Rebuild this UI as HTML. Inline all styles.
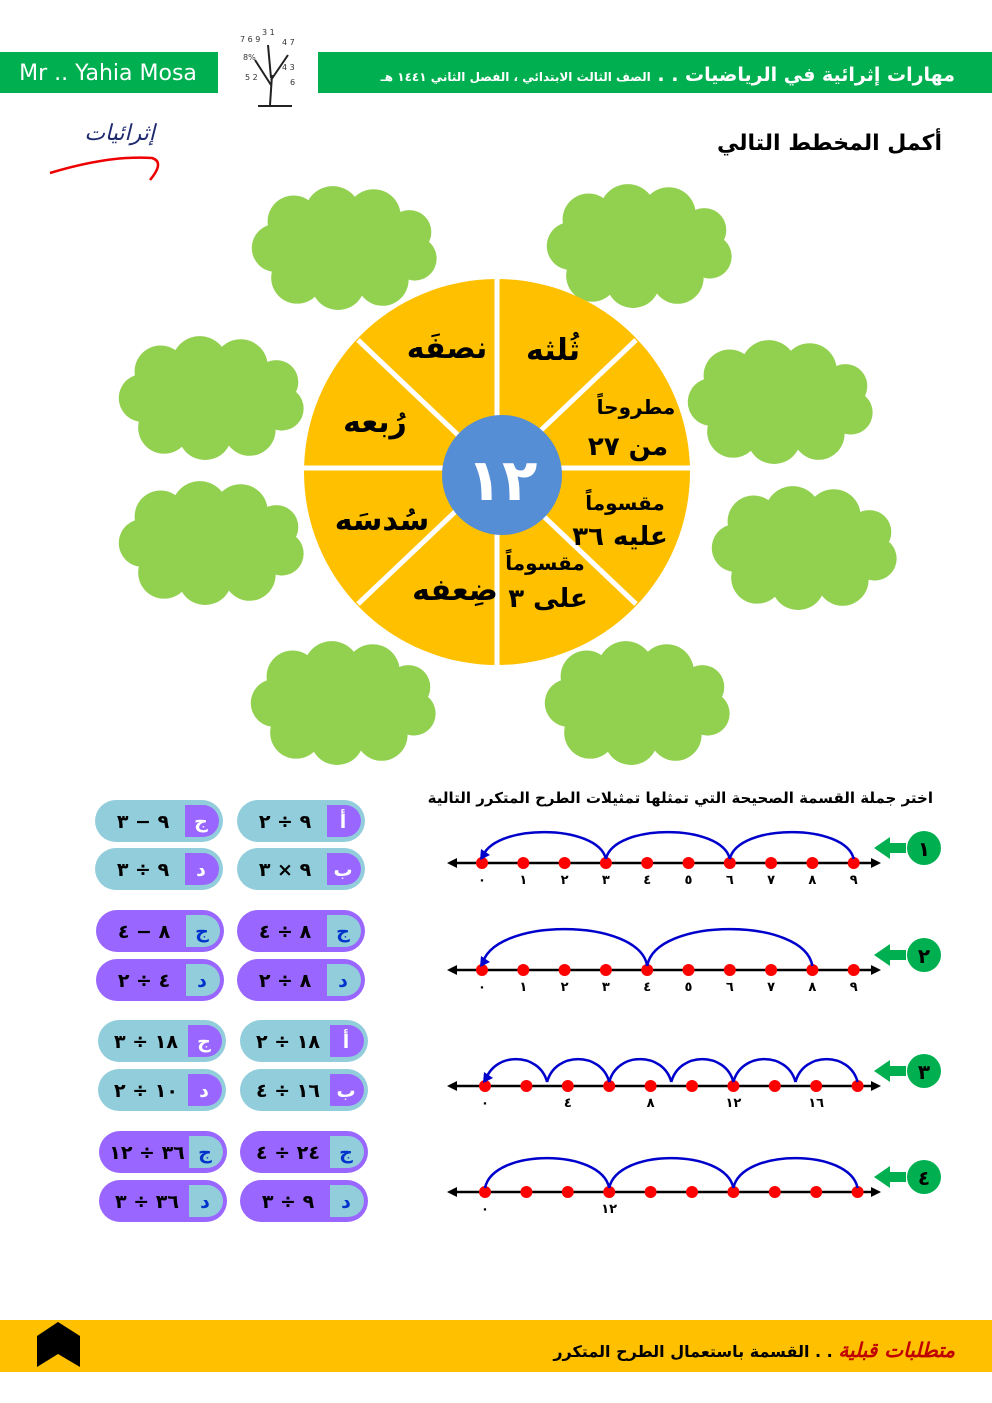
<!DOCTYPE html>
<html><head><meta charset="utf-8">
<style>
html,body{margin:0;padding:0;background:#fff;}
svg{display:block;}
text{font-family:"DejaVu Sans","Liberation Sans",sans-serif;}
</style></head>
<body>
<svg id="s" width="992" height="1403" viewBox="0 0 992 1403" xmlns="http://www.w3.org/2000/svg">
<rect x="0" y="52" width="218" height="41" fill="#00b050"/>
<rect x="318" y="52" width="674" height="41" fill="#00b050"/>
<text x="108" y="80" font-family="Liberation Sans" font-size="22" fill="#fff" text-anchor="middle">Mr .. Yahia Mosa</text>
<text x="955" y="81" font-size="19" font-weight="bold" fill="#fff" text-anchor="start" direction="rtl">مهارات إثرائية في الرياضيات . . <tspan font-size="12">الصف الثالث الابتدائي ، الفصل الثاني ١٤٤١ هـ</tspan></text>
<g stroke="#222" fill="none" stroke-width="2">
<path d="M270 105 L272 75 M271 85 L255 60 M271 80 L288 55 M271 78 L268 45"/>
</g>
<g font-size="8" fill="#333" font-family="Liberation Sans">
<text x="240" y="42">7 6 9</text><text x="262" y="35">3 1</text><text x="282" y="45">4 7</text>
<text x="243" y="60">8%</text><text x="282" y="70">4 3</text><text x="245" y="80">5 2</text><text x="290" y="85">6</text>
</g>
<line x1="258" y1="106" x2="292" y2="106" stroke="#222" stroke-width="2"/>
<text x="942" y="150" font-size="22" font-weight="bold" text-anchor="start" direction="rtl">أكمل المخطط التالي</text>
<text x="155" y="140" font-size="22" font-style="italic" fill="#1f2a6e" text-anchor="start" direction="rtl">إثرائيات</text>
<path d="M50 173 Q110 155 152 158 Q165 162 150 180" stroke="#e00" stroke-width="2.5" fill="none"/>
<g id="clouds" fill="#92d050"></g>
<circle cx="497" cy="472" r="193" fill="#ffc000"/>
<g stroke="#fff" stroke-width="5">
<line x1="497" y1="275" x2="497" y2="670"/>
<line x1="300" y1="468" x2="695" y2="468"/>
<line x1="358" y1="340" x2="636" y2="604"/>
<line x1="636" y1="340" x2="358" y2="604"/>
</g>
<circle cx="502" cy="475" r="60" fill="#558ed5"/>
<text x="502" y="500" font-size="58" font-weight="bold" fill="#fff" text-anchor="middle">١٢</text>
<g font-weight="bold" text-anchor="middle" fill="#000">
<text x="447" y="358" font-size="30">نصفَه</text>
<text x="553" y="360" font-size="30">ثُلثه</text>
<text x="375" y="432" font-size="30">رُبعه</text>
<text x="382" y="530" font-size="30">سُدسَه</text>
<text x="455" y="600" font-size="30">ضِعفه</text>
<text x="636" y="414" font-size="20">مطروحاً</text>
<text x="628" y="455" font-size="26">من ٢٧</text>
<text x="625" y="510" font-size="20">مقسوماً</text>
<text x="620" y="545" font-size="26">عليه ٣٦</text>
<text x="545" y="570" font-size="20">مقسوماً</text>
<text x="548" y="607" font-size="26">على ٣</text>
</g>
<text x="933" y="803" font-size="15" font-weight="bold" text-anchor="start" direction="rtl">اختر جملة القسمة الصحيحة التي تمثلها تمثيلات الطرح المتكرر التالية</text>
<g id="lines"></g>
<g id="pills"></g>
<rect x="0" y="1320" width="992" height="52" fill="#ffc000"/>
<path d="M37 1336 L58 1322 L80 1336 L80 1367 L58 1354 L37 1367 Z" fill="#000"/>
<text x="955" y="1357" font-size="16" font-weight="bold" text-anchor="start" direction="rtl"><tspan fill="#c00000" font-style="italic" font-size="20">متطلبات قبلية</tspan> . . القسمة باستعمال الطرح المتكرر</text>
</svg>
<script>
const NS="http://www.w3.org/2000/svg";
function el(p,t,a,txt){const e=document.createElementNS(NS,t);for(const k in a)e.setAttribute(k,a[k]);if(txt)e.textContent=txt;p.appendChild(e);return e;}
const cl=document.getElementById('clouds');
[[258,195],[553,193],[125,345],[694,349],[125,490],[718,495],[257,650],[551,650]].forEach(([x,y])=>{
 const w=178,h=106;
 el(cl,'ellipse',{cx:x+w/2,cy:y+h/2,rx:w/2-18,ry:h/2-10});
 [[0.2,0.25,26],[0.42,0.18,28],[0.65,0.2,27],[0.85,0.35,22],[0.88,0.6,22],[0.7,0.8,26],[0.45,0.83,27],[0.22,0.78,26],[0.1,0.5,24]].forEach(([a,b,r])=>el(cl,'circle',{cx:x+a*w,cy:y+b*h,r:r}));
});
const L=document.getElementById('lines');
const ar=['٠','١','٢','٣','٤','٥','٦','٧','٨','٩'];
function nline(y,x0,step,labels,arcs,num,arrowEnd){
 el(L,'line',{x1:450,y1:y,x2:878,y2:y,stroke:'#000','stroke-width':2.5});
 el(L,'path',{d:`M447 ${y} l10 -5 v10z M881 ${y} l-10 -5 v10z`,fill:'#000'});
 for(let i=0;i<10;i++){const x=x0+i*step;el(L,'circle',{cx:x,cy:y,r:6,fill:'#f00'});
  if(labels[i])el(L,'text',{x:x,y:y+21,'font-size':13,'font-weight':'bold','text-anchor':'middle'},labels[i]);}
 arcs.forEach(([a,b,hgt])=>{const xa=x0+a*step,xb=x0+b*step;el(L,'path',{d:`M${xb} ${y-4} C${xb-8} ${y-hgt*1.33} ${xa+8} ${y-hgt*1.33} ${xa} ${y-4}`,stroke:'#0000cc','stroke-width':2.5,fill:'none'});});
 if(arrowEnd){el(L,'path',{d:`M${x0-2} ${y-3} l1 -11 l9 6z`,fill:'#0000cc'});}
 el(L,'path',{d:`M874 ${y-15} l16 -11 v6 h16 v10 h-16 v6z`,fill:'#00b050'});
 el(L,'circle',{cx:924,cy:y-15,r:17,fill:'#00b050'});
 el(L,'text',{x:924,y:y-7,'font-size':20,'font-weight':'bold','text-anchor':'middle'},num);
}
nline(863,482,41.3,ar,[[6,9,30],[3,6,30],[0,3,30]],'١',true);
nline(970,482,41.3,ar,[[4,8,40],[0,4,40]],'٢',true);
nline(1086,485,41.4,['٠','','٤','','٨','','١٢','','١٦',''],[[7.5,9,26],[6,7.5,26],[4.5,6,26],[3,4.5,26],[1.5,3,26],[0,1.5,26]],'٣',true);
nline(1192,485,41.4,['٠','','','١٢','','','','','',''],[[6,9,33],[3,6,33],[0,3,33]],'٤',false);
const P=document.getElementById('pills');
function pill(x,y,dark,letter,txt){
 const w=128,h=42,bg=dark?'#9966ff':'#92cddc',bx=dark?'#92cddc':'#9966ff',lc=dark?'#0033cc':'#fff';
 el(P,'rect',{x:x,y:y,width:w,height:h,rx:21,fill:bg});
 el(P,'path',{d:`M${x+w-38} ${y+5} h18 a16 16 0 0 1 16 16 a16 16 0 0 1 -16 16 h-18z`,fill:bx});
 el(P,'text',{x:x+w-22,y:y+28,'font-size':19,'font-weight':'bold',fill:lc,'text-anchor':'middle'},letter);
 el(P,'text',{x:x+48,y:y+28,'font-size':19,'font-weight':'bold','text-anchor':'middle'},txt);
}
const g=[
 [800,848,false,95,237,[['ج','٩ − ٣'],['أ','٩ ÷ ٢'],['د','٩ ÷ ٣'],['ب','٩ × ٣']]],
 [910,959,true,96,237,[['ج','٨ − ٤'],['ج','٨ ÷ ٤'],['د','٤ ÷ ٢'],['د','٨ ÷ ٢']]],
 [1020,1069,false,98,240,[['ج','١٨ ÷ ٣'],['أ','١٨ ÷ ٢'],['د','١٠ ÷ ٢'],['ب','١٦ ÷ ٤']]],
 [1131,1180,true,99,240,[['ج','٣٦ ÷ ١٢'],['ج','٢٤ ÷ ٤'],['د','٣٦ ÷ ٣'],['د','٩ ÷ ٣']]]
];
g.forEach(([y1,y2,d,xl,xr,it])=>{pill(xl,y1,d,it[0][0],it[0][1]);pill(xr,y1,d,it[1][0],it[1][1]);pill(xl,y2,d,it[2][0],it[2][1]);pill(xr,y2,d,it[3][0],it[3][1]);});
</script>
</body></html>
